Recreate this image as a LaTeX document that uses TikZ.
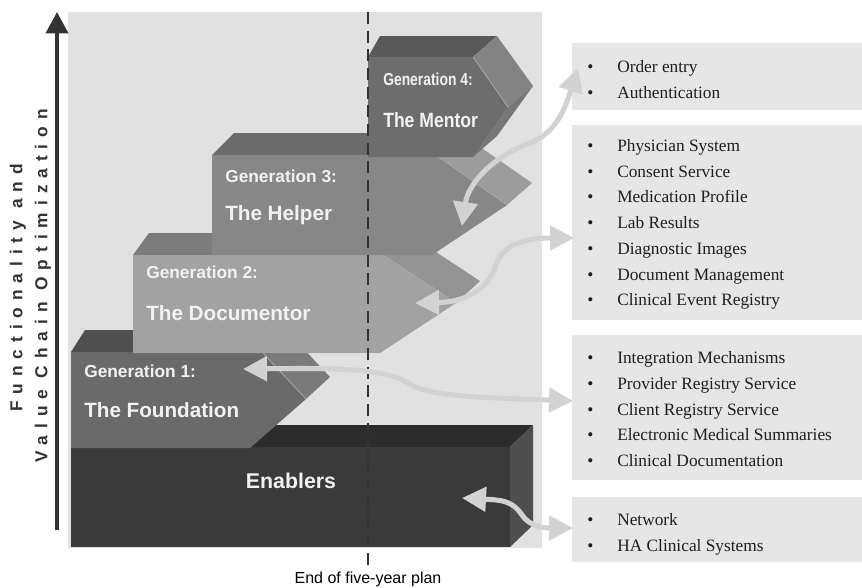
\documentclass[tikz,border=0pt]{standalone}
\usepackage{fontspec}
\usepackage{graphicx}
\setmainfont{Liberation Serif}
\setsansfont{Liberation Sans}
\newfontfamily\axisfont[LetterSpace=40]{Liberation Sans}
\usetikzlibrary{arrows.meta}
\definecolor{panelc}{HTML}{E1E1E1}
\definecolor{boxc}{HTML}{E6E6E6}
\definecolor{connc}{HTML}{D2D2D2}
\definecolor{inkc}{HTML}{333333}
\definecolor{listink}{HTML}{1E1E1E}
\definecolor{labelc}{HTML}{F2F2F2}
\definecolor{enfront}{HTML}{3A3A3A}
\definecolor{entop}{HTML}{2C2C2C}
\definecolor{enside}{HTML}{4E4E4E}
\definecolor{gafront}{HTML}{6A6A6A}
\definecolor{gatop}{HTML}{505050}
\definecolor{gaside}{HTML}{7A7A7A}
\definecolor{gbfront}{HTML}{A2A2A2}
\definecolor{gbtop}{HTML}{7C7C7C}
\definecolor{gbside}{HTML}{939393}
\definecolor{gcfront}{HTML}{878787}
\definecolor{gctop}{HTML}{6B6B6B}
\definecolor{gcside}{HTML}{9C9C9C}
\definecolor{gdfront}{HTML}{6D6D6D}
\definecolor{gdtop}{HTML}{595959}
\definecolor{gdside}{HTML}{838383}
\definecolor{gdsideb}{HTML}{777777}
\definecolor{edgec}{HTML}{A8A8A8}
\tikzset{
  conn/.style={draw=connc, line width=3.8pt,
    {Triangle[length=18pt,width=18pt]}-{Triangle[length=18pt,width=18pt]}},
  axisarrow/.style={draw=inkc, line width=3pt, -{Triangle[length=16pt,width=16.5pt]}},
  planline/.style={draw=inkc, line width=2.2pt, dash pattern=on 9pt off 5pt},
  genlabel/.style={font=\sffamily\bfseries\fontsize{13}{15}\selectfont, text=labelc, inner sep=0pt},
  titlelabel/.style={font=\sffamily\bfseries\fontsize{15.5}{18}\selectfont, text=labelc, inner sep=0pt},
  enlabel/.style={font=\sffamily\bfseries\fontsize{16}{19}\selectfont, text=labelc, inner sep=0pt},
  axislabel/.style={font=\axisfont\bfseries\fontsize{13}{15}\selectfont, text=inkc, inner sep=0pt},
  planlabel/.style={font=\sffamily\fontsize{12}{14}\selectfont, text=black, inner sep=0pt},
  listbox/.style={fill=boxc, draw=none, inner sep=0pt, minimum width=217.5pt},
  listtext/.style={font=\fontsize{13}{19.3}\selectfont, text=listink, inner sep=0pt, align=left},
  hiedge/.style={draw=edgec, line width=0.6pt}
}
\newcommand\itemrows[1]{\begin{tabular}{@{}p{22.5pt}@{}l@{}}#1\end{tabular}}
\begin{document}
\begin{tikzpicture}[x=0.75pt,y=-0.75pt]
\useasboundingbox (0,0) rectangle (862,587);
% background panel
\fill[panelc] (68,12) rectangle (542,548);

% Enablers block
\fill[entop] (71,447) -- (94,425) -- (533,425) -- (510,447) -- cycle;
\fill[enside] (510,447) -- (533,425) -- (533,525) -- (510,547) -- cycle;
\fill[enfront] (71,447) rectangle (510,547);

% Generation 1
\fill[gatop] (71,352) -- (85,330) -- (286,330) -- (262,352) -- cycle;
\fill[gaside] (262,352) -- (286,330) -- (330,377) -- (306,399) -- cycle;
\fill[gafront] (71,352) -- (262,352) -- (306,399) -- (250,448) -- (71,448) -- cycle;
\draw[hiedge] (262,352) -- (306,399);

% Generation 2
\fill[gbtop] (133,255) -- (149,233) -- (407,233) -- (383,255) -- cycle;
\fill[gbside] (383,255) -- (407,233) -- (480,281) -- (456,303) -- cycle;
\fill[gbfront] (133,255) -- (383,255) -- (456,303) -- (380,353) -- (133,353) -- cycle;
\draw[hiedge] (383,255) -- (456,303);

% Generation 3
\fill[gctop] (212,155) -- (234,133) -- (460,133) -- (436,155) -- cycle;
\fill[gcside] (436,155) -- (460,133) -- (532,183) -- (507,205) -- cycle;
\fill[gcfront] (212,155) -- (436,155) -- (507,205) -- (432,255) -- (212,255) -- cycle;
\draw[hiedge] (436,155) -- (507,205);

% Generation 4
\fill[gdtop] (368,57) -- (380,36) -- (497,36) -- (473,57) -- cycle;
\fill[gdside] (473,57) -- (497,36) -- (533,86) -- (508,107) -- cycle;
\fill[gdsideb] (508,107) -- (533,86) -- (497,136) -- (473,157) -- cycle;
\fill[gdfront] (368,57) -- (473,57) -- (508,107) -- (473,157) -- (368,157) -- cycle;
\draw[hiedge] (473,57) -- (508,107);

% block labels
\node[genlabel, anchor=base west] (g4a) at (383,85) {\scalebox{0.8}[1]{Generation 4:}};
\node[titlelabel, anchor=base west] (g4b) at (383,127) {\scalebox{0.85}[1]{The Mentor}};
\node[genlabel, anchor=base west] (g3a) at (225,182) {Generation 3:};
\node[titlelabel, anchor=base west] (g3b) at (225,220) {The Helper};
\node[genlabel, anchor=base west] (g2a) at (146,278) {Generation 2:};
\node[titlelabel, anchor=base west] (g2b) at (146,320) {The Documentor};
\node[genlabel, anchor=base west] (g1a) at (84,377) {Generation 1:};
\node[titlelabel, anchor=base west] (g1b) at (84,417) {The Foundation};
\node[enlabel, anchor=base] (en) at (291,488) {Enablers};

% end of plan dashed line
\coordinate (dt) at (368,12);
\coordinate (db) at (368,568);
\draw[planline] (dt) -- (db);
\node[planlabel, anchor=base] (plan) at (368,583) {End of five-year plan};

% vertical axis
\coordinate (vb) at (57,530);
\coordinate (vt) at (57,12);
\draw[axisarrow] (vb) -- (vt);
\node[axislabel, rotate=90] (ax1) at (18,288) {Functionality and};
\node[axislabel, rotate=90] (ax2) at (43,286) {Value Chain Optimization};

% right boxes
\node[listbox, anchor=north west, minimum height=50.25pt] (box1) at (572,43) {};
\node[listbox, anchor=north west, minimum height=146.25pt] (box2) at (572,125) {};
\node[listbox, anchor=north west, minimum height=108.75pt] (box3) at (572,335) {};
\node[listbox, anchor=north west, minimum height=48.75pt] (box4) at (572,497) {};
\node[listtext, anchor=west] (list1) at (587,80) {\itemrows{\textbullet & Order entry\\ \textbullet & Authentication}};
\node[listtext, anchor=west] (list2) at (587,223.5) {\itemrows{\textbullet & Physician System\\ \textbullet & Consent Service\\ \textbullet & Medication Profile\\ \textbullet & Lab Results\\ \textbullet & Diagnostic Images\\ \textbullet & Document Management\\ \textbullet & Clinical Event Registry}};
\node[listtext, anchor=west] (list3) at (587,410) {\itemrows{\textbullet & Integration Mechanisms\\ \textbullet & Provider Registry Service\\ \textbullet & Client Registry Service\\ \textbullet & Electronic Medical Summaries\\ \textbullet & Clinical Documentation}};
\node[listtext, anchor=west] (list4) at (587,533) {\itemrows{\textbullet & Network\\ \textbullet & HA Clinical Systems}};

% connectors
\coordinate (c4a) at (462,226);
\coordinate (c4b) at (578,68);
\draw[conn] (c4a) .. controls (468,185) and (490,158) .. (530,143) .. controls (558,132) and (566,105) .. (c4b);
\coordinate (c2a) at (415,303);
\coordinate (c2b) at (574,238);
\draw[conn] (c2a) .. controls (465,302) and (488,290) .. (496,265) .. controls (503,242) and (530,238) .. (c2b);
\coordinate (c1a) at (243,369);
\coordinate (c1b) at (573,401);
\draw[conn] (c1a) .. controls (330,368) and (385,368) .. (408,383) .. controls (428,396) and (470,397) .. (c1b);
\coordinate (c0a) at (462,498);
\coordinate (c0b) at (573,528);
\draw[conn] (c0a) .. controls (500,500) and (512,500) .. (522,515) .. controls (530,527) and (545,528) .. (c0b);
\end{tikzpicture}
\end{document}
